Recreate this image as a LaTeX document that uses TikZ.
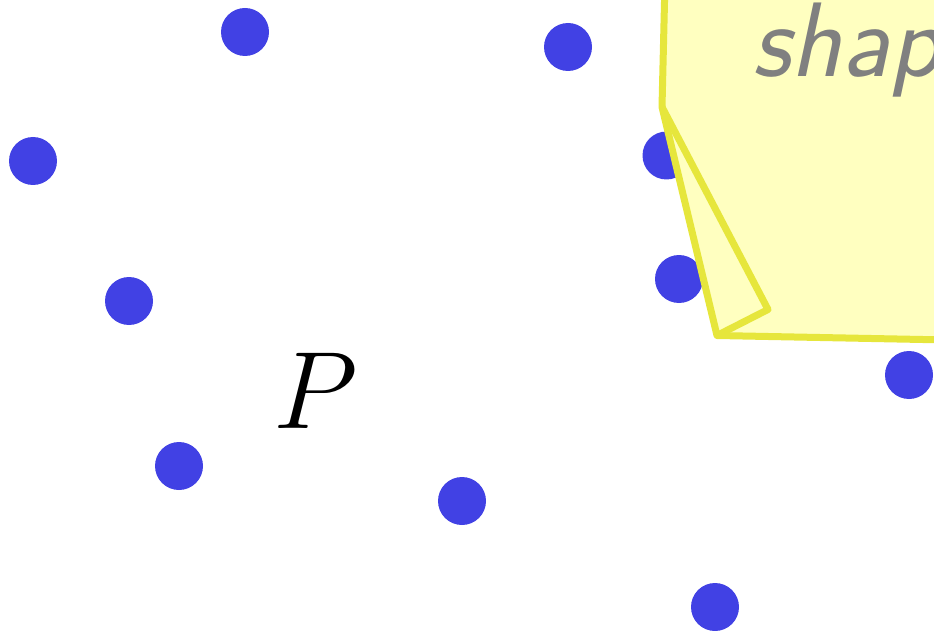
\RequirePackage{fix-cm}
\documentclass[tikz,border=0pt]{standalone}
\definecolor{dotblue}{RGB}{65,65,228}
\definecolor{shapefill}{RGB}{255,255,192}
\definecolor{shapeline}{RGB}{230,230,60}
\definecolor{labelgray}{RGB}{128,128,128}
\tikzset{
  dot/.style={circle,fill=dotblue,draw=none,minimum size=48pt,inner sep=0pt},
  shapeedge/.style={draw=shapeline,line width=7pt,line join=round},
}
\begin{document}
\begin{tikzpicture}[x=1pt,y=-1pt]
\useasboundingbox (0,0) rectangle (934,631);
\clip (0,0) rectangle (934,631);
% dots
\node[dot] (d1) at (245,32) {};
\node[dot] (d2) at (568,47) {};
\node[dot] (d3) at (33,161) {};
\node[dot] (d4) at (666.5,155.5) {};
\node[dot] (d5) at (129,301) {};
\node[dot] (d6) at (679,279) {};
\node[dot] (d7) at (909,375) {};
\node[dot] (d8) at (179,466) {};
\node[dot] (d9) at (462,501) {};
\node[dot] (d10) at (715,607) {};
% yellow shape
\coordinate (top) at (665.5,-40);
\coordinate (A) at (662,107);
\coordinate (C) at (768,309.5);
\coordinate (B) at (717,335.5);
\coordinate (Dr) at (1000,341);
\coordinate (Tr) at (1000,-40);
\fill[shapefill] (top) -- (A) -- (B) -- (Dr) -- (Tr) -- cycle;
\draw[shapeedge] (top) -- (A) -- (B) -- (Dr);
\draw[shapeedge] (A) -- (C) -- (B);
% labels
\node[anchor=base west,inner sep=0pt,text=labelgray,font=\fontsize{106}{106}\selectfont\sffamily\itshape] (lbl) at (752,77) {shap};
\node[anchor=base west,inner sep=0pt,font=\fontsize{110}{110}\selectfont] (P) at (273,428) {$P$};
\end{tikzpicture}
\end{document}
